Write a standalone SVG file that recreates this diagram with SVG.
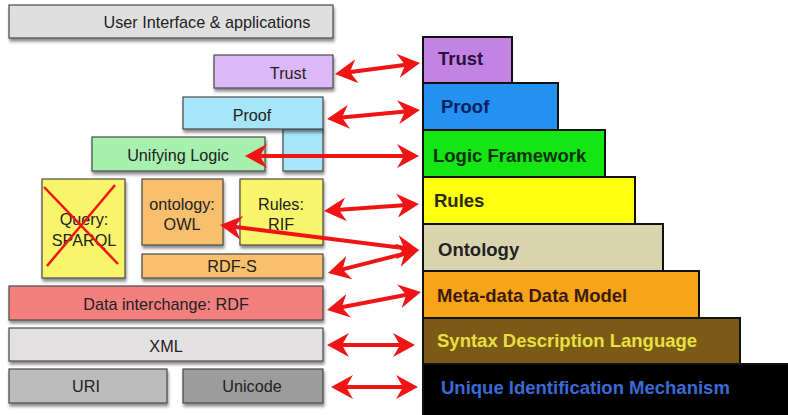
<svg xmlns="http://www.w3.org/2000/svg" width="788" height="415" viewBox="0 0 788 415">
  <style>
    .lbox { stroke: #4a4a4a; stroke-width: 1.2; filter: url(#shadow); }
    .ltxt { font-family: "Liberation Sans", Arial, sans-serif; font-size: 16.2px; fill: #222; text-anchor: middle; }
    .rbox { stroke: #111; stroke-width: 2; }
    .rtxt { font-family: "Liberation Sans", Arial, sans-serif; font-size: 18.5px; font-weight: bold; }
    .link { stroke: #f01414; stroke-width: 4; fill: none; marker-start: url(#head); marker-end: url(#head); }
    .cross { stroke: #f01414; stroke-width: 2.5; }
  </style>
  <defs>
    <filter id="shadow" x="-10%" y="-20%" width="120%" height="160%">
      <feDropShadow dx="1" dy="3" stdDeviation="1.6" flood-color="#000" flood-opacity="0.45"/>
    </filter>
    <marker id="head" viewBox="0 0 22 24" refX="10" refY="12" markerWidth="22" markerHeight="24" markerUnits="userSpaceOnUse" orient="auto-start-reverse">
      <path d="M0,0 L22,12 L0,24 L7,12 Z" fill="#f01414"/>
    </marker>
  </defs>

  <rect width="788" height="415" fill="#fff"/>

  <!-- Left: semantic web layer stack -->
  <g id="ui-apps">
    <rect class="lbox" x="9" y="5" width="324" height="33" fill="#e0dfe0"/>
    <text class="ltxt" x="207" y="28">User Interface &amp; applications</text>
  </g>
  <g id="trust-l">
    <rect class="lbox" x="214" y="55" width="119" height="33" fill="#dcb8f8"/>
    <text class="ltxt" x="288" y="79">Trust</text>
  </g>
  <g id="proof-l">
    <rect class="lbox" x="283" y="129" width="40" height="42" fill="#a6e6f8"/>
    <rect class="lbox" x="183" y="97" width="140" height="32" fill="#a6e6f8"/>
    <text class="ltxt" x="252" y="121">Proof</text>
  </g>
  <g id="unifying-logic">
    <rect class="lbox" x="92" y="137" width="173" height="34" fill="#a8f0b0"/>
    <text class="ltxt" x="178" y="161">Unifying Logic</text>
  </g>
  <g id="query-sparql">
    <rect class="lbox" x="42" y="179" width="83" height="99" fill="#f8f56a"/>
    <text class="ltxt" x="84" y="225">Query:</text>
    <text class="ltxt" x="84" y="246">SPARQL</text>
    <line class="cross" x1="44" y1="187" x2="118" y2="264"/>
    <line class="cross" x1="115" y1="185" x2="47" y2="266"/>
  </g>
  <g id="ontology-owl">
    <rect class="lbox" x="142" y="179" width="81" height="66" fill="#f8bf6c"/>
    <text class="ltxt" x="182" y="210">ontology:</text>
    <text class="ltxt" x="182" y="230">OWL</text>
  </g>
  <g id="rules-rif">
    <rect class="lbox" x="240" y="179" width="83" height="66" fill="#f8f56a"/>
    <text class="ltxt" x="281" y="210">Rules:</text>
    <text class="ltxt" x="281" y="230">RIF</text>
  </g>
  <g id="rdf-s">
    <rect class="lbox" x="142" y="254" width="181" height="24" fill="#f8bf6c"/>
    <text class="ltxt" x="232" y="272">RDF-S</text>
  </g>
  <g id="rdf">
    <rect class="lbox" x="9" y="286" width="314" height="34" fill="#f47f7f"/>
    <text class="ltxt" x="166" y="310">Data interchange: RDF</text>
  </g>
  <g id="xml">
    <rect class="lbox" x="9" y="328" width="314" height="33" fill="#e2e0e0"/>
    <text class="ltxt" x="166" y="352">XML</text>
  </g>
  <g id="uri">
    <rect class="lbox" x="9" y="369" width="158" height="34" fill="#bcbcbc"/>
    <text class="ltxt" x="86" y="392">URI</text>
  </g>
  <g id="unicode">
    <rect class="lbox" x="183" y="369" width="140" height="34" fill="#9c9c9c"/>
    <text class="ltxt" x="252" y="392">Unicode</text>
  </g>

  <!-- Right: layered pyramid, drawn bottom-up -->
  <g id="unique-id">
    <rect class="rbox" x="423" y="364" width="370" height="52" fill="#000"/>
    <text class="rtxt" x="441" y="394" fill="#3a6ad8">Unique Identification Mechanism</text>
  </g>
  <g id="syntax">
    <rect class="rbox" x="423" y="318" width="317" height="46" fill="#7a5a14"/>
    <text class="rtxt" x="437" y="347" fill="#e8e040">Syntax Description Language</text>
  </g>
  <g id="metadata">
    <rect class="rbox" x="423" y="271" width="276" height="47" fill="#f8a418"/>
    <text class="rtxt" x="437" y="302" fill="#3c1a0c">Meta-data Data Model</text>
  </g>
  <g id="ontology-r">
    <rect class="rbox" x="423" y="224" width="240" height="47" fill="#d9d3ae"/>
    <text class="rtxt" x="438" y="256" fill="#222">Ontology</text>
  </g>
  <g id="rules-r">
    <rect class="rbox" x="423" y="177" width="212" height="47" fill="#ffff10"/>
    <text class="rtxt" x="434" y="207" fill="#2a2a10">Rules</text>
  </g>
  <g id="logic-framework">
    <rect class="rbox" x="423" y="130" width="182" height="47" fill="#14e614"/>
    <text class="rtxt" x="433" y="162" fill="#0e300e">Logic Framework</text>
  </g>
  <g id="proof-r">
    <rect class="rbox" x="423" y="83" width="135" height="47" fill="#2490f0"/>
    <text class="rtxt" x="441" y="113" fill="#0a2060">Proof</text>
  </g>
  <g id="trust-r">
    <rect class="rbox" x="423" y="37" width="89" height="46" fill="#c383e3"/>
    <text class="rtxt" x="438" y="65" fill="#2a1040">Trust</text>
  </g>

  <!-- Correspondence arrows -->
  <g id="connectors">
    <line class="link" x1="346.9" y1="72.5" x2="408.1" y2="64.5"/>
    <line class="link" x1="339" y1="117.8" x2="408" y2="111.2"/>
    <line class="link" x1="257" y1="156" x2="407" y2="156"/>
    <line class="link" x1="336" y1="210.1" x2="407" y2="204.9"/>
    <line class="link" x1="231.9" y1="226.5" x2="407.1" y2="248.5"/>
    <line class="link" x1="339.6" y1="270.1" x2="407.4" y2="252.9"/>
    <line class="link" x1="338.8" y1="307.7" x2="409.2" y2="294.3"/>
    <line class="link" x1="339" y1="345" x2="403" y2="345"/>
    <line class="link" x1="343" y1="387" x2="406" y2="387"/>
  </g>
</svg>
